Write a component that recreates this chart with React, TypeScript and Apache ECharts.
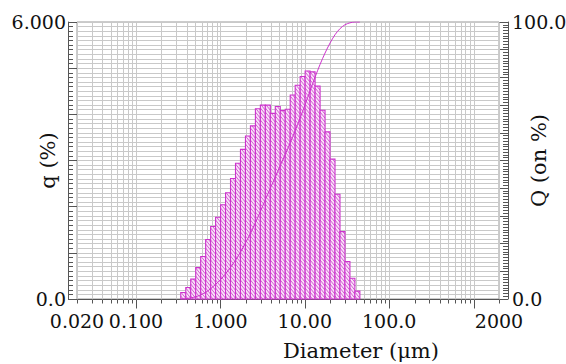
import React, { useEffect, useRef } from "react";
import * as echarts from "echarts";

// Channel edges (µm) of the size classes that carry volume
const channelEdges = [
  0.339, 0.389, 0.445, 0.51, 0.584, 0.669, 0.766, 0.877, 1.005, 1.151, 1.318,
  1.51, 1.729, 1.981, 2.269, 2.599, 2.976, 3.409, 3.905, 4.472, 5.122, 5.867,
  6.72, 7.697, 8.816, 10.097, 11.565, 13.246, 15.172, 17.377, 19.904, 22.797,
  26.111, 29.907, 34.255, 39.234, 44.938,
];

// q (%) of each class (one per bar)
const qValues = [
  0.14, 0.25, 0.43, 0.68, 0.92, 1.29, 1.57, 1.77, 2.04, 2.3, 2.61, 2.94, 3.24,
  3.53, 3.75, 4.12, 4.2, 4.2, 4.02, 4.17, 4.08, 4.11, 4.42, 4.63, 4.82, 4.94,
  4.92, 4.61, 4.09, 3.62, 3.03, 2.27, 1.46, 0.81, 0.45, 0.17,
];

// Q (on %) cumulative curve, at each channel edge
const qCumulative = [
  0, 0.1, 0.4, 0.8, 1.5, 2.4, 3.7, 5.3, 7.0, 9.1, 11.4, 14.0, 16.9, 20.2, 23.7,
  27.5, 31.6, 35.8, 40.0, 44.0, 48.2, 52.2, 56.4, 60.8, 65.4, 70.2, 75.2, 80.1,
  84.7, 88.8, 92.4, 95.4, 97.6, 99.0, 99.7, 100, 100,
];

const xTickLabels: [number, string][] = [
  [0.02, "0.020"],
  [0.1, "0.100"],
  [1, "1.000"],
  [10, "10.00"],
  [100, "100.0"],
  [1000, ""],
  [2000, "2000"],
];

const xMin = 0.02;
const xMax = 2000;

const MAGENTA = "#cc33cc";
const HATCH = "#cf4fcf";
const GRID = "#c9c9c9";
const AXIS = "#555555";
const FONT = "DejaVu Serif";

function logGridValues(): number[] {
  const out: number[] = [];
  for (let e = -2; e <= 3; e++) {
    for (let m = 1; m <= 9; m++) {
      const v = Number((m * Math.pow(10, e)).toPrecision(3));
      if (v >= xMin - 1e-9 && v <= xMax + 1e-9) out.push(v);
    }
  }
  return out;
}

function isDecade(v: number) {
  const l = Math.log10(v);
  return Math.abs(l - Math.round(l)) < 1e-6;
}

export default function App() {
  const ref = useRef<HTMLDivElement>(null);

  useEffect(() => {
    if (!ref.current) return;
    const chart = echarts.init(ref.current, undefined, { renderer: "svg" });

    const bars = qValues.map((q, i) => [channelEdges[i], channelEdges[i + 1], q]);
    const gridVals = logGridValues().map((v) => [v, 0]);
    const curve = channelEdges.map((d, i) => [d, qCumulative[i]]);

    const option: any = {
      animation: false,
      backgroundColor: "#ffffff",
      grid: {
        left: 77,
        right: 67,
        top: 22,
        bottom: 65,
        containLabel: false,
        outerBoundsMode: "none",
        show: true,
        borderColor: "#999999",
        borderWidth: 1,
      },
      xAxis: {
        type: "log",
        logBase: 10,
        min: xMin,
        max: xMax,
        axisLine: { show: true, lineStyle: { color: AXIS, width: 1 } },
        axisTick: { show: false },
        splitLine: { show: false },
        axisLabel: {
          show: true,
          margin: 12,
          fontFamily: FONT,
          fontSize: 19,
          color: "#111",
          showMinLabel: true,
          showMaxLabel: true,
          hideOverlap: false,
          formatter: (v: number) => {
            for (const [t, s] of xTickLabels) {
              if (Math.abs(Math.log10(v) - Math.log10(t)) < 1e-4) return s;
            }
            return "";
          },
        },
      },
      yAxis: [
        {
          type: "value",
          min: 0,
          max: 6,
          interval: 1,
          position: "left",
          offset: 9,
          axisLine: { show: true, lineStyle: { color: AXIS, width: 1 } },
          axisTick: { show: true, inside: true, length: 9, lineStyle: { color: AXIS } },
          minorTick: { show: true, splitNumber: 10, length: 5, lineStyle: { color: AXIS } },
          splitLine: { show: true, lineStyle: { color: GRID, width: 1 } },
          minorSplitLine: { show: true, lineStyle: { color: GRID, width: 1 } },
          axisLabel: {
            margin: 2,
            fontFamily: FONT,
            fontSize: 19,
            color: "#111",
            hideOverlap: false,
            formatter: (v: number) => (v === 6 ? "6.000" : v === 0 ? "0.0" : ""),
          },
          name: "q (%)",
          nameLocation: "middle",
          nameRotate: 90,
          nameGap: 10,
          nameMoveOverlap: false,
          nameTextStyle: { fontFamily: FONT, fontSize: 21, color: "#111" },
        },
        {
          type: "value",
          min: 0,
          max: 100,
          interval: 10,
          position: "right",
          offset: 9,
          axisLine: { show: true, lineStyle: { color: AXIS, width: 1 } },
          axisTick: { show: true, inside: true, length: 9, lineStyle: { color: AXIS } },
          minorTick: { show: true, splitNumber: 10, length: 5, lineStyle: { color: AXIS } },
          splitLine: { show: false },
          axisLabel: {
            margin: 4,
            fontFamily: FONT,
            fontSize: 19,
            color: "#111",
            hideOverlap: false,
            formatter: (v: number) => (v === 100 ? "100.0" : v === 0 ? "0.0" : ""),
          },
          name: "Q (on %)",
          nameLocation: "middle",
          nameRotate: 90,
          nameGap: 20,
          nameMoveOverlap: false,
          nameTextStyle: { fontFamily: FONT, fontSize: 21, color: "#111" },
        },
      ],
      graphic: [
        {
          type: "text",
          x: 361,
          y: 351,
          style: {
            text: "Diameter (μm)",
            font: `21px "${FONT}"`,
            fill: "#111",
            align: "center",
            verticalAlign: "middle",
          },
        },
      ],
      series: [
        {
          type: "custom",
          name: "loggrid",
          silent: true,
          xAxisIndex: 0,
          yAxisIndex: 0,
          z: 1,
          data: gridVals,
          renderItem: (params: any, api: any) => {
            const v = api.value(0);
            const top = api.coord([v, 6]);
            const bot = api.coord([v, 0]);
            const px = Math.round(bot[0]) + 0.5;
            const by = Math.round(bot[1]) + 0.5;
            const len = isDecade(v) ? 9 : 4;
            return {
              type: "group",
              children: [
                {
                  type: "line",
                  shape: { x1: px, y1: Math.round(top[1]) + 0.5, x2: px, y2: by },
                  style: { stroke: GRID, lineWidth: 1 },
                },
                {
                  type: "line",
                  shape: { x1: px, y1: by, x2: px, y2: by + len },
                  style: { stroke: AXIS, lineWidth: 1 },
                },
              ],
            };
          },
        },
        {
          type: "custom",
          name: "q",
          silent: true,
          xAxisIndex: 0,
          yAxisIndex: 0,
          z: 3,
          data: bars,
          encode: { x: [0, 1], y: 2 },
          renderItem: (params: any, api: any) => {
            const x0 = api.value(0);
            const x1 = api.value(1);
            const q = api.value(2);
            const pTop = api.coord([x0, q]);
            const pBot = api.coord([x1, 0]);
            const L = pTop[0];
            const R = pBot[0];
            const T = pTop[1];
            const B = pBot[1];
            const w = R - L;
            const drop = w * 1.25;
            const step = 4;
            const children: any[] = [
              {
                type: "rect",
                shape: { x: L, y: T, width: w, height: B - T },
                style: { fill: "#f8e4f8", stroke: "none" },
              },
            ];
            const kStart = Math.floor((T - drop) / step);
            const kEnd = Math.ceil(B / step);
            for (let k = kStart; k <= kEnd; k++) {
              const yy = k * step;
              const t0 = Math.max(0, (T - yy) / drop);
              const t1 = Math.min(1, (B - yy) / drop);
              if (t1 <= t0) continue;
              children.push({
                type: "line",
                shape: {
                  x1: L + w * t0,
                  y1: yy + drop * t0,
                  x2: L + w * t1,
                  y2: yy + drop * t1,
                },
                style: { stroke: HATCH, lineWidth: 0.9 },
              });
            }
            children.push({
              type: "rect",
              shape: { x: L, y: T, width: w, height: B - T },
              style: { fill: "none", stroke: MAGENTA, lineWidth: 1.1 },
            });
            return { type: "group", children };
          },
        },
        {
          type: "line",
          name: "Q",
          xAxisIndex: 0,
          yAxisIndex: 1,
          z: 4,
          data: curve,
          showSymbol: false,
          smooth: 0.3,
          lineStyle: { color: MAGENTA, width: 1 },
          itemStyle: { color: MAGENTA },
        },
      ],
    };

    chart.setOption(option);
    return () => chart.dispose();
  }, []);

  return (
    <div
      ref={ref}
      style={{
        position: "fixed",
        left: 0,
        top: 0,
        width: 566,
        height: 364,
        background: "#fff",
      }}
    />
  );
}
